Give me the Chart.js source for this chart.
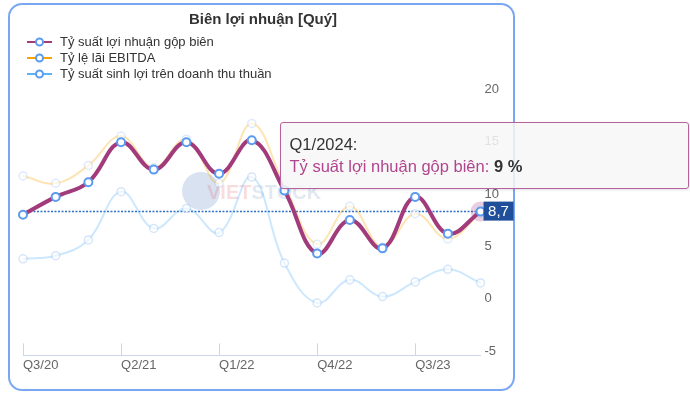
<!DOCTYPE html>
<html>
<head>
<meta charset="utf-8">
<script src="https://cdn.jsdelivr.net/npm/chart.js@4.4.1/dist/chart.umd.min.js"></script>
<style>
  body { margin: 0; width: 690px; height: 397px; background: #fff; position: relative; overflow: hidden; font-family: "Liberation Sans", Arial, sans-serif; }
  #card { position: absolute; left: 8px; top: 3px; width: 503px; height: 384px; border: 2px solid #7ba7f2; border-radius: 14px; }
  #wrap { position: absolute; left: 8px; top: 3px; width: 507px; height: 388px; }
  #legend { position: absolute; left: 27px; top: 34px; font-size: 13px; color: #333; }
  #legend div { height: 16px; line-height: 16px; display: flex; align-items: center; }
  #legend canvas { margin-right: 8px; }
  #tip { position: absolute; display: none; box-sizing: border-box; width: 409px; height: 67px; background: rgba(247,247,247,0.85);
         border: 1.5px solid #b7629f; border-radius: 3px; padding: 10px 9px; font-size: 16.5px; color: #333; line-height: 22px;
         box-shadow: 1px 1px 3px rgba(0,0,0,0.12); }
  #tip .name { color: #b2458f; }
  #tip b { color: #333; }
</style>
</head>
<body>
<div id="card"></div>
<div id="wrap"><canvas id="chart" width="507" height="388"></canvas></div>
<div id="legend"></div>
<div id="tip"></div>
<script>
// quarters Q3/20 .. Q1/24
const quarters = ["Q3/20", "Q4/20", "Q1/21", "Q2/21", "Q3/21", "Q4/21", "Q1/22", "Q2/22",
  "Q3/22", "Q4/22", "Q1/23", "Q2/23", "Q3/23", "Q4/23", "Q1/24"];

const grossMargin = [8.4, 10.1, 11.5, 15.3, 12.7, 15.3, 12.3, 15.5, 10.7, 4.7, 7.9, 5.2, 10.1, 6.6, 8.7];
const ebitdaMargin = [12.1, 11.4, 13.1, 15.9, 12.9, 15.6, 11.4, 17.1, 11.2, 5.6, 9.2, 5.3, 8.5, 6.1, 8.6];
const netMargin = [4.2, 4.5, 6.0, 10.6, 7.1, 9.0, 6.7, 12.0, 3.8, 0.0, 2.2, 0.6, 2.0, 3.2, 1.9];

const seriesNames = ["Tỷ suất lợi nhuận gộp biên", "Tỷ lệ lãi EBITDA", "Tỷ suất sinh lợi trên doanh thu thuần"];
const seriesColors = ["#a23b7b", "#f7a600", "#5ab4f5"];
const yTicks = [-5, 0, 5, 10, 15, 20];

Chart.defaults.font.family = '"Liberation Sans", Arial, sans-serif';
Chart.defaults.color = "#666";

// legend built in html
const legend = document.getElementById("legend");
seriesNames.forEach((name, i) => {
  const row = document.createElement("div");
  const c = document.createElement("canvas");
  c.width = 25; c.height = 12;
  const g = c.getContext("2d");
  g.strokeStyle = seriesColors[i];
  g.lineWidth = 2;
  g.beginPath(); g.moveTo(0, 6); g.lineTo(25, 6); g.stroke();
  g.beginPath(); g.arc(12.5, 6, 3.5, 0, Math.PI * 2);
  g.fillStyle = "#fff"; g.fill();
  g.strokeStyle = "#5b9bf0"; g.stroke();
  row.appendChild(c);
  row.appendChild(document.createTextNode(name));
  legend.appendChild(row);
});

const fmt = v => v.toFixed(1).replace(".", ",");

const extras = {
  id: "extras",
  beforeDatasetsDraw(chart) {
    const ctx = chart.ctx;
    // watermark
    ctx.save();
    ctx.globalAlpha = 0.2;
    ctx.fillStyle = "#3d6fb8";
    ctx.beginPath(); ctx.arc(193, 188, 19, 0, Math.PI * 2); ctx.fill();
    ctx.font = "bold 20px 'Liberation Sans', Arial";
    ctx.textBaseline = "middle";
    ctx.fillStyle = "#e0555a";
    ctx.fillText("VIET", 199, 190);
    ctx.fillStyle = "#6d8fb8";
    ctx.fillText("STOCK", 199 + ctx.measureText("VIET").width, 190);
    ctx.restore();

    // x tick marks standing on the axis line
    const x = chart.scales.x, area = chart.chartArea;
    ctx.save();
    ctx.strokeStyle = "#ccd6eb";
    ctx.lineWidth = 1;
    quarters.forEach((q, i) => {
      if (i % 3) return;
      const px = Math.round(x.getPixelForValue(i)) + 0.5;
      ctx.beginPath(); ctx.moveTo(px, area.bottom - 12); ctx.lineTo(px, area.bottom); ctx.stroke();
    });
    ctx.restore();

    // last value guide + halo
    const last = grossMargin.length - 1;
    const py = chart.scales.y.getPixelForValue(grossMargin[last]);
    const pt = chart.getDatasetMeta(0).data[last];
    ctx.save();
    ctx.strokeStyle = "#2f6fc4";
    ctx.lineWidth = 1.5;
    ctx.setLineDash([2, 1.5]);
    ctx.beginPath(); ctx.moveTo(area.left, py); ctx.lineTo(pt.x, py); ctx.stroke();
    ctx.setLineDash([]);
    ctx.fillStyle = "rgba(162,59,123,0.25)";
    ctx.beginPath(); ctx.arc(pt.x, pt.y, 10, 0, Math.PI * 2); ctx.fill();
    ctx.restore();
  },
  afterDatasetsDraw(chart) {
    const ctx = chart.ctx;
    const last = grossMargin.length - 1;
    const py = chart.scales.y.getPixelForValue(grossMargin[last]);
    const left = chart.chartArea.right + 3;
    ctx.save();
    ctx.fillStyle = "#1f4e9a";
    ctx.fillRect(left, py - 10, 30, 19);
    ctx.fillStyle = "#fff";
    ctx.font = "15px 'Liberation Sans', Arial";
    ctx.textBaseline = "middle";
    ctx.textAlign = "center";
    ctx.fillText(fmt(grossMargin[last]), left + 15, py);
    ctx.restore();
  }
};

function externalTip(context) {
  const tip = document.getElementById("tip");
  const t = context.tooltip;
  if (t.opacity === 0) { tip.style.display = "none"; return; }
  const item = t.dataPoints[0];
  const q = quarters[item.dataIndex].replace(/\/(\d\d)$/, "/20$1");
  tip.innerHTML = q + ":<br><span class='name'>" + seriesNames[item.datasetIndex] + ": </span><b>" +
    Math.round(item.raw) + " %</b>";
  tip.style.display = "block";
  tip.style.left = (8 + t.caretX - 201) + "px";
  tip.style.top = (3 + t.caretY - 90) + "px";
}

const faint = (hex, a) => {
  const n = parseInt(hex.slice(1), 16);
  return `rgba(${n >> 16},${(n >> 8) & 255},${n & 255},${a})`;
};

const chart = new Chart(document.getElementById("chart"), {
  type: "line",
  data: {
    labels: quarters,
    datasets: [
      {
        label: seriesNames[0], data: grossMargin,
        borderColor: seriesColors[0], borderWidth: 4, tension: 0.4,
        pointRadius: 4, pointBorderWidth: 2, pointBorderColor: "#5b9bf0", pointBackgroundColor: "#fff",
        pointHoverRadius: 4, pointHoverBorderWidth: 2
      },
      {
        label: seriesNames[1], data: ebitdaMargin,
        borderColor: faint(seriesColors[1], 0.3), borderWidth: 2, tension: 0.4,
        pointRadius: 4, pointBorderWidth: 1.5, pointBorderColor: "rgba(91,155,240,0.2)", pointBackgroundColor: "rgba(255,255,255,0.6)"
      },
      {
        label: seriesNames[2], data: netMargin,
        borderColor: faint(seriesColors[2], 0.3), borderWidth: 2, tension: 0.4,
        pointRadius: 4, pointBorderWidth: 1.5, pointBorderColor: "rgba(91,155,240,0.25)", pointBackgroundColor: "rgba(255,255,255,0.6)"
      }
    ]
  },
  options: {
    responsive: false,
    animation: false,
    events: [],
    layout: { padding: { left: 15, right: 12, top: 0, bottom: 16 } },
    plugins: {
      legend: { display: false },
      title: {
        display: true, text: "Biên lợi nhuận [Quý]", color: "#333",
        font: { size: 15, weight: "bold" }, padding: { top: 8, bottom: 64 }
      },
      tooltip: { enabled: false, external: externalTip, mode: "nearest", intersect: false }
    },
    scales: {
      x: {
        grid: { display: false, drawTicks: false },
        border: { display: true, color: "#ccd6eb" },
        ticks: {
          autoSkip: false, maxRotation: 0, align: "start", padding: 2,
          color: "#666", font: { size: 13 },
          callback: (v, i) => (i % 3 === 0 ? quarters[i] : "")
        }
      },
      y: {
        position: "right", min: -5, max: 20,
        afterBuildTicks: s => { s.ticks = yTicks.map(v => ({ value: v })); },
        grid: { display: false, drawTicks: false },
        border: { display: false },
        ticks: { padding: 4, labelOffset: -4, color: "#666", font: { size: 13 } }
      }
    }
  },
  plugins: [extras]
});

const lastIdx = grossMargin.length - 1;
const lastPt = chart.getDatasetMeta(0).data[lastIdx];
chart.tooltip.setActiveElements([{ datasetIndex: 0, index: lastIdx }], { x: lastPt.x, y: lastPt.y });
chart.update();
</script>
</body>
</html>
